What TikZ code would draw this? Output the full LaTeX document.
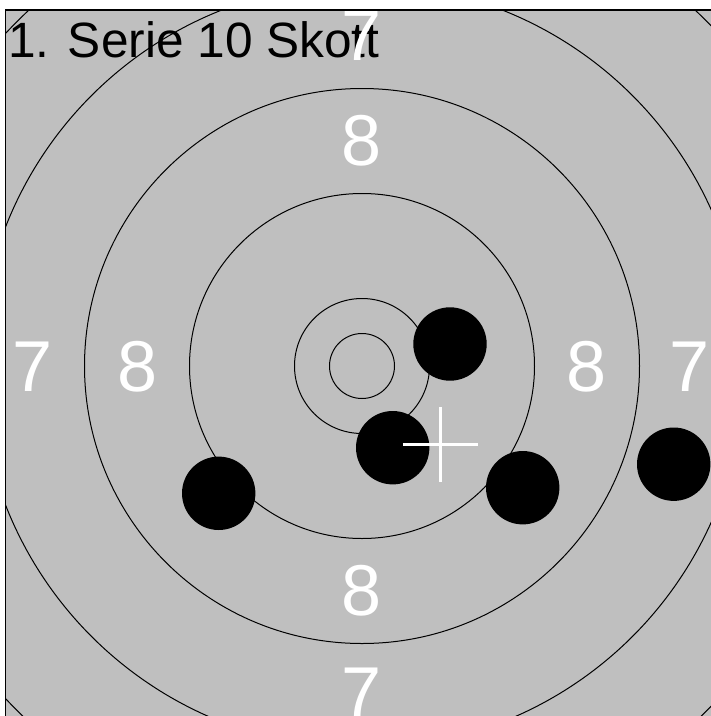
\documentclass[tikz,border=0pt]{standalone}
\usepackage{fontspec}
\setmainfont{Liberation Sans}
\begin{document}
\begin{tikzpicture}[x=1pt,y=-1pt,
  ring/.style={draw=black,line width=1pt},
  shot/.style={circle,fill=black,draw=none,minimum size=73.4pt,inner sep=0pt},
  score/.style={text=white,font=\fontsize{72}{72}\selectfont,inner sep=0pt,anchor=center},
  titletext/.style={text=black,font=\fontsize{49.6}{50}\selectfont,inner sep=0pt,anchor=base west},
  crossline/.style={draw=white,line width=3.3pt}]
\useasboundingbox (0,0) rectangle (711,716);
\fill[white] (0,0) rectangle (711,716);
\begin{scope}
  \clip (5.5,10) rectangle (711,716);
  \fill[black!25] (5.5,10) rectangle (712,717);
  \coordinate (c) at (362,366);
  \foreach \r in {32.5,67.5,172.5,277.5,382.5,487.5}
    \draw[ring] (c) circle[radius=\r];
  \node[titletext] (title) at (8,57) {1. Serie 10 Skott};
  \node[score] (t7) at (362,36) {7};
  \node[score] (t8) at (362,141) {8};
  \node[score] (l7) at (33,367) {7};
  \node[score] (l8) at (138,367) {8};
  \node[score] (r8) at (587,367) {8};
  \node[score] (r7) at (690,367) {7};
  \node[score] (b8) at (362,591) {8};
  \node[score] (b7) at (362,693) {7};
  \node[shot] (s1) at (450,344) {};
  \node[shot] (s2) at (392.7,447.7) {};
  \node[shot] (s3) at (218.7,493.3) {};
  \node[shot] (s4) at (522.7,487.7) {};
  \node[shot] (s5) at (673.7,464.2) {};
  \coordinate (cross) at (440.3,444.5);
  \draw[crossline] ([xshift=-37.5pt]cross) -- ([xshift=37.5pt]cross);
  \draw[crossline] ([yshift=-37.5pt]cross) -- ([yshift=37.5pt]cross);
\end{scope}
\draw[black,line width=1.5pt] (5.5,716) -- (5.5,10) -- (711,10);
\end{tikzpicture}
\end{document}
